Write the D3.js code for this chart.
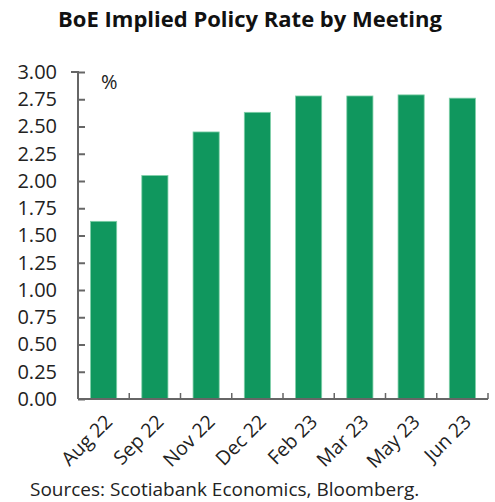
<!DOCTYPE html>
<html><head><meta charset="utf-8">
<script src="https://cdn.jsdelivr.net/npm/d3@7"></script>
<style>body{margin:0;background:#fff}svg{display:block}</style>
</head><body>
<script>
const categories = ["Aug 22","Sep 22","Nov 22","Dec 22","Feb 23","Mar 23","May 23","Jun 23"];
const values = [1.63, 2.05, 2.45, 2.63, 2.78, 2.78, 2.79, 2.76];
const yTicks = [0,0.25,0.5,0.75,1,1.25,1.5,1.75,2,2.25,2.5,2.75,3];
const title = "BoE Implied Policy Rate by Meeting";
const source = "Sources: Scotiabank Economics, Bloomberg.";

const W = 495, H = 502;
const svg = d3.select("body").append("svg").attr("width", W).attr("height", H);
const font = "'Open Sans', sans-serif";
const m = {left: 78, right: 7, top: 72, bottom: 103};
const x = d3.scaleBand().domain(categories).range([m.left, W - m.right]).paddingInner(0.49).paddingOuter(0.245);
const y = d3.scaleLinear().domain([0, 3]).range([H - m.bottom, m.top]);

svg.append("text").attr("x", 250).attr("y", 27).attr("text-anchor", "middle")
  .attr("font-family", font).attr("font-weight", 700).attr("font-size", 22).attr("fill", "#111").text(title);

svg.selectAll("rect.bar").data(values).join("rect").attr("class","bar")
  .attr("x", (d,i) => x(categories[i])).attr("width", x.bandwidth())
  .attr("y", d => y(d)).attr("height", d => y(0) - y(d))
  .attr("fill", "#10975E").attr("stroke", "#7fcfa8").attr("stroke-width", 0.8);

const yAxis = d3.axisLeft(y).tickValues(yTicks).tickSize(-7).tickPadding(21).tickFormat(d3.format(".2f"));
const gy = svg.append("g").attr("transform", `translate(${m.left},0)`).call(yAxis);
gy.select(".domain").attr("stroke", "#666").attr("stroke-width", 2).attr("d", `M${-7},${y(3)}H0V${y(0)}`);
gy.selectAll(".tick line").attr("stroke", "#666").attr("stroke-width", 2);
gy.selectAll("text").attr("font-family", font).attr("font-size", 20).attr("fill", "#222");

const step = x.step();
const gx = svg.append("g");
gx.append("line").attr("x1", m.left).attr("x2", W - m.right).attr("y1", y(0)).attr("y2", y(0))
  .attr("stroke", "#666").attr("stroke-width", 2);
const bounds = d3.range(1, categories.length + 1).map(i => m.left + i * step);
gx.selectAll("line.b").data(bounds).join("line").attr("class","b")
  .attr("x1", d => d).attr("x2", d => d).attr("y1", y(0)).attr("y2", y(0) - 6)
  .attr("stroke", "#666").attr("stroke-width", 1.5);
gx.selectAll("text").data(categories).join("text")
  .attr("transform", d => `translate(${x(d) + x.bandwidth()/2 + 10},${y(0) + 24}) rotate(-45)`)
  .attr("text-anchor", "end").attr("font-family", font).attr("font-size", 19.5).attr("fill", "#222").text(d => d);

svg.append("text").attr("x", 101).attr("y", 89).attr("font-family", font).attr("font-size", 20).attr("fill", "#222").text("%");

svg.append("text").attr("x", 30).attr("y", 496).attr("font-family", font).attr("font-size", 19).attr("fill", "#222").text(source);
</script>
</body></html>
